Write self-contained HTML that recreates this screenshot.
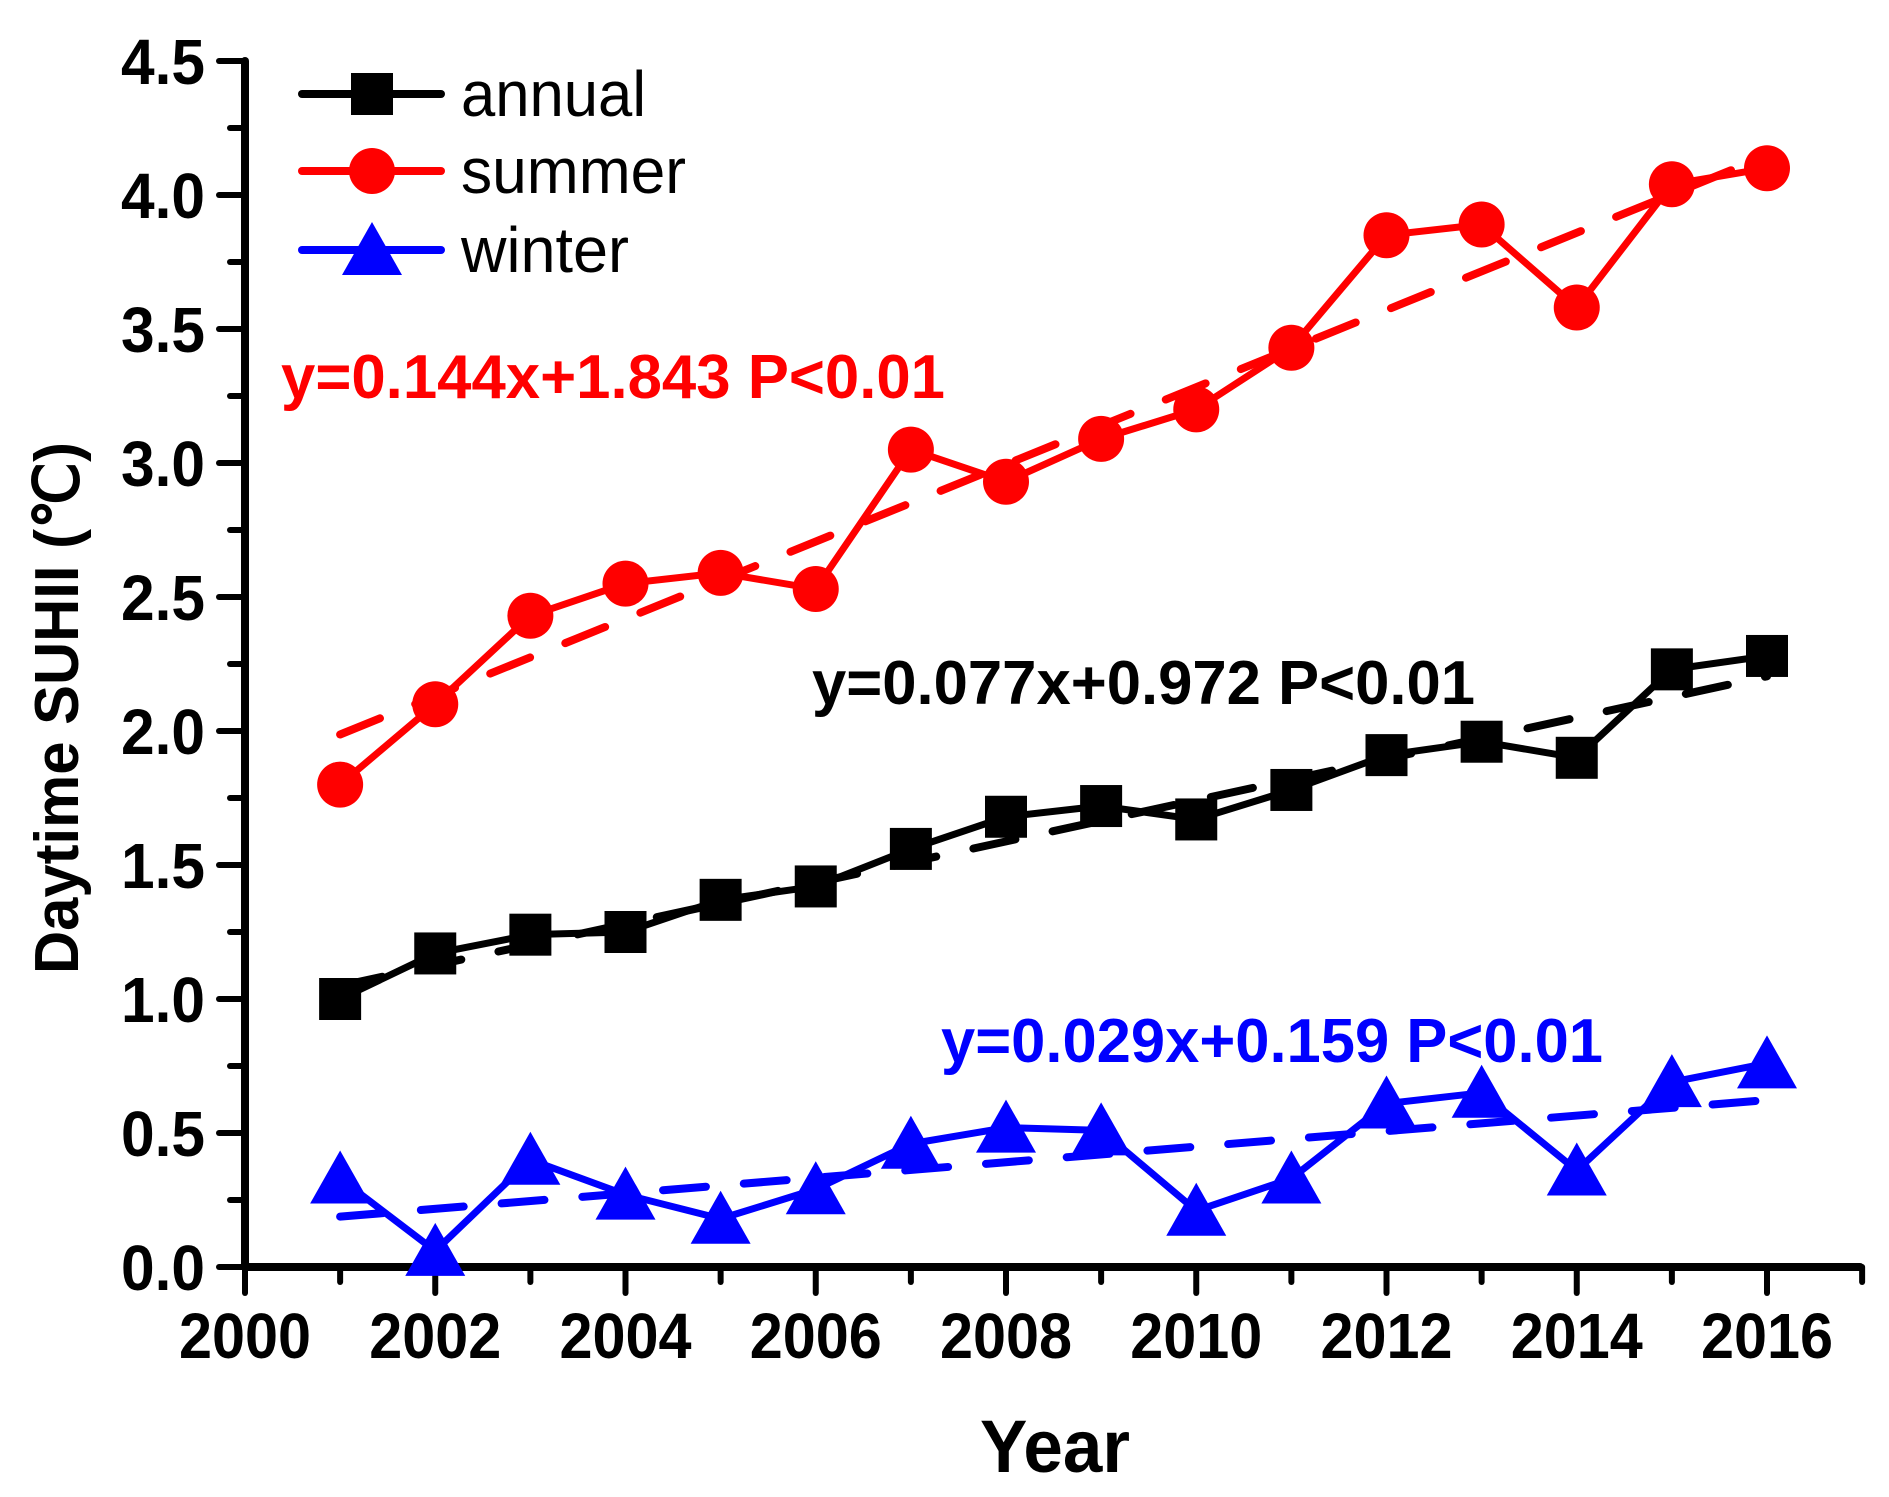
<!DOCTYPE html>
<html><head><meta charset="utf-8"><style>
html,body{margin:0;padding:0;background:#fff;}
svg{display:block;}
text{font-family:"Liberation Sans",Arial,sans-serif;}
</style></head><body>
<svg id="s" width="1889" height="1497" viewBox="0 0 1889 1497" xmlns="http://www.w3.org/2000/svg">
<g id="ticks" stroke="#000" stroke-width="6" stroke-linecap="round"></g>
<line x1="245" y1="1267" x2="1860" y2="1267" stroke="#000" stroke-width="8" stroke-linecap="round"/>
<line x1="245" y1="1267" x2="245" y2="61" stroke="#000" stroke-width="8" stroke-linecap="round"/>
<g id="data"></g>
<g font-weight="bold" font-size="64" fill="#000" text-anchor="end" id="ylab"></g>
<g font-weight="bold" font-size="64" fill="#000" text-anchor="middle" id="xlab"></g>
<text x="1055" y="1472" font-size="74" font-weight="bold" text-anchor="middle" textLength="150" lengthAdjust="spacingAndGlyphs">Year</text>
<text transform="translate(78,708) rotate(-90)" font-size="62" font-weight="bold" text-anchor="middle" textLength="532" lengthAdjust="spacingAndGlyphs">Daytime SUHII (℃)</text>
<text x="281" y="398" font-size="62" font-weight="bold" fill="#ff0000" textLength="664" lengthAdjust="spacingAndGlyphs">y=0.144x+1.843 P&lt;0.01</text>
<text x="812" y="704" font-size="62" font-weight="bold" fill="#000" textLength="663" lengthAdjust="spacingAndGlyphs">y=0.077x+0.972 P&lt;0.01</text>
<text x="941" y="1062" font-size="62" font-weight="bold" fill="#0000ff" textLength="662" lengthAdjust="spacingAndGlyphs">y=0.029x+0.159 P&lt;0.01</text>
<g font-size="64" fill="#000">
<text x="461" y="116" textLength="185" lengthAdjust="spacingAndGlyphs">annual</text>
<text x="461" y="193" textLength="225" lengthAdjust="spacingAndGlyphs">summer</text>
<text x="461" y="272" textLength="168" lengthAdjust="spacingAndGlyphs">winter</text>
</g>
</svg>
<script>
var NS="http://www.w3.org/2000/svg";
function X(yr){return 245+(yr-2000)*95.125;}
function Y(v){return 1267-v*268;}
function el(p,n,a){var e=document.createElementNS(NS,n);for(var k in a)e.setAttribute(k,a[k]);document.getElementById(p).appendChild(e);return e;}
for(var yr=2000;yr<=2017;yr++){var maj=(yr%2==0);el("ticks","line",{x1:X(yr),y1:1267,x2:X(yr),y2:maj?1293:1282});}
for(var i=0;i<=18;i++){var v=i*0.25,maj=(i%2==0);el("ticks","line",{x1:245,y1:Y(v),x2:maj?219:230,y2:Y(v)});}
for(var i=0;i<=9;i++){var t=el("ylab","text",{x:205,y:Y(i*0.5)+23,textLength:84,lengthAdjust:"spacingAndGlyphs"});t.textContent=(i*0.5).toFixed(1);}
for(var yr=2000;yr<=2016;yr+=2){var t=el("xlab","text",{x:X(yr),y:1358,textLength:132,lengthAdjust:"spacingAndGlyphs"});t.textContent=yr;}
var A=[1.0,1.17,1.24,1.25,1.37,1.42,1.56,1.68,1.72,1.67,1.78,1.91,1.96,1.90,2.23,2.28];
var S=[1.80,2.10,2.43,2.55,2.59,2.53,3.05,2.93,3.09,3.20,3.43,3.85,3.89,3.58,4.04,4.10];
var W=[0.33,0.06,0.40,0.27,0.18,0.29,0.46,0.52,0.51,0.21,0.33,0.61,0.65,0.36,0.69,0.76];
function trend(a,b,c){el("data","line",{x1:X(2001),y1:Y(a+b),x2:X(2016),y2:Y(a+16*b),stroke:c,"stroke-width":8,"stroke-dasharray":"43 38","stroke-linecap":"round"});}
function series(d,c){var p="";for(var i=0;i<16;i++)p+=(i?"L":"M")+X(2001+i)+" "+Y(d[i]);el("data","path",{d:p,stroke:c,"stroke-width":7,fill:"none","stroke-linejoin":"round"});}
function sq(x,y){el("data","rect",{x:x-21,y:y-21,width:42,height:42,fill:"#000"});}
function ci(x,y){el("data","circle",{cx:x,cy:y,r:23,fill:"#ff0000"});}
function tr(x,y){el("data","polygon",{points:(x-30)+","+(y+25)+" "+(x+30)+","+(y+25)+" "+x+","+(y-28),fill:"#0000ff"});}
trend(0.972,0.077,"#000");trend(1.843,0.144,"#ff0000");trend(0.159,0.029,"#0000ff");
series(A,"#000");series(S,"#ff0000");series(W,"#0000ff");
for(var i=0;i<16;i++){sq(X(2001+i),Y(A[i]));ci(X(2001+i),Y(S[i]));tr(X(2001+i),Y(W[i]));}
el("data","line",{x1:302,y1:94,x2:441,y2:94,stroke:"#000","stroke-width":8,"stroke-linecap":"round"});
el("data","line",{x1:302,y1:171,x2:441,y2:171,stroke:"#ff0000","stroke-width":8,"stroke-linecap":"round"});
el("data","line",{x1:302,y1:250,x2:441,y2:250,stroke:"#0000ff","stroke-width":8,"stroke-linecap":"round"});
sq(372,94);ci(372,171);tr(372,250);
</script>
</body></html>
